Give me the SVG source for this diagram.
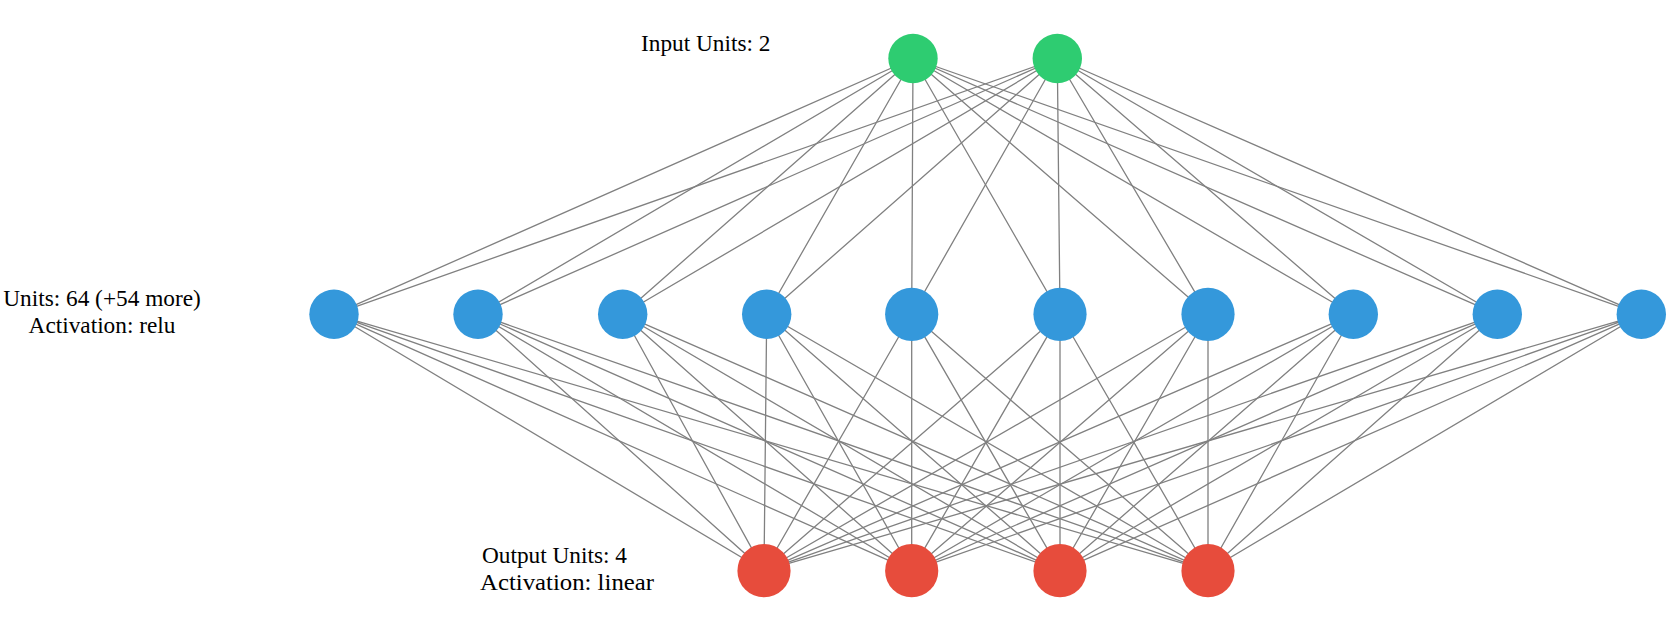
<svg xmlns="http://www.w3.org/2000/svg" width="1671" height="629" viewBox="0 0 1671 629">
<style>
.e{stroke:#808080;stroke-width:1.3;fill:none}
.in{fill:#2ecc71}
.hd{fill:#3498db}
.out{fill:#e74c3c}
.t{font-family:"Liberation Serif","Times New Roman",serif;font-size:23.3px;fill:#000}
</style>
<rect width="1671" height="629" fill="#fff"/>
<g id="connectors" class="e">
<path d="M913,58.5L334,314.3M913,58.5L478,314.3M913,58.5L622.7,314.3M913,58.5L766.7,314.3M913,58.5L911.7,314.3M913,58.5L1060,314.3M913,58.5L1208,314.3M913,58.5L1353.3,314.3M913,58.5L1497.3,314.3M913,58.5L1641.3,314.3"/>
<path d="M1057.3,58.5L334,314.3M1057.3,58.5L478,314.3M1057.3,58.5L622.7,314.3M1057.3,58.5L766.7,314.3M1057.3,58.5L911.7,314.3M1057.3,58.5L1060,314.3M1057.3,58.5L1208,314.3M1057.3,58.5L1353.3,314.3M1057.3,58.5L1497.3,314.3M1057.3,58.5L1641.3,314.3"/>
<path d="M334,314.3L764,570.7M334,314.3L911.7,570.7M334,314.3L1060,570.7M334,314.3L1208,570.7"/>
<path d="M478,314.3L764,570.7M478,314.3L911.7,570.7M478,314.3L1060,570.7M478,314.3L1208,570.7"/>
<path d="M622.7,314.3L764,570.7M622.7,314.3L911.7,570.7M622.7,314.3L1060,570.7M622.7,314.3L1208,570.7"/>
<path d="M766.7,314.3L764,570.7M766.7,314.3L911.7,570.7M766.7,314.3L1060,570.7M766.7,314.3L1208,570.7"/>
<path d="M911.7,314.3L764,570.7M911.7,314.3L911.7,570.7M911.7,314.3L1060,570.7M911.7,314.3L1208,570.7"/>
<path d="M1060,314.3L764,570.7M1060,314.3L911.7,570.7M1060,314.3L1060,570.7M1060,314.3L1208,570.7"/>
<path d="M1208,314.3L764,570.7M1208,314.3L911.7,570.7M1208,314.3L1060,570.7M1208,314.3L1208,570.7"/>
<path d="M1353.3,314.3L764,570.7M1353.3,314.3L911.7,570.7M1353.3,314.3L1060,570.7M1353.3,314.3L1208,570.7"/>
<path d="M1497.3,314.3L764,570.7M1497.3,314.3L911.7,570.7M1497.3,314.3L1060,570.7M1497.3,314.3L1208,570.7"/>
<path d="M1641.3,314.3L764,570.7M1641.3,314.3L911.7,570.7M1641.3,314.3L1060,570.7M1641.3,314.3L1208,570.7"/>
</g>
<g id="input-1"><circle class="in" cx="913" cy="58.5" r="24.7"/></g>
<g id="input-2"><circle class="in" cx="1057.3" cy="58.5" r="24.7"/></g>
<g id="hidden-1"><circle class="hd" cx="334" cy="314.3" r="24.7"/></g>
<g id="hidden-2"><circle class="hd" cx="478" cy="314.3" r="24.7"/></g>
<g id="hidden-3"><circle class="hd" cx="622.7" cy="314.3" r="24.7"/></g>
<g id="hidden-4"><circle class="hd" cx="766.7" cy="314.3" r="24.7"/></g>
<g id="hidden-5"><circle class="hd" cx="911.7" cy="314.3" r="26.6"/></g>
<g id="hidden-6"><circle class="hd" cx="1060" cy="314.3" r="26.6"/></g>
<g id="hidden-7"><circle class="hd" cx="1208" cy="314.3" r="26.6"/></g>
<g id="hidden-8"><circle class="hd" cx="1353.3" cy="314.3" r="24.7"/></g>
<g id="hidden-9"><circle class="hd" cx="1497.3" cy="314.3" r="24.7"/></g>
<g id="hidden-10"><circle class="hd" cx="1641.3" cy="314.3" r="24.7"/></g>
<g id="output-1"><circle class="out" cx="764" cy="570.7" r="26.6"/></g>
<g id="output-2"><circle class="out" cx="911.7" cy="570.7" r="26.6"/></g>
<g id="output-3"><circle class="out" cx="1060" cy="570.7" r="26.6"/></g>
<g id="output-4"><circle class="out" cx="1208" cy="570.7" r="26.6"/></g>
<g id="labels">
<text class="t" x="641" y="51">Input Units: 2</text>
<text class="t" x="102" y="306" text-anchor="middle">Units: 64 (+54 more)</text>
<text class="t" x="102" y="333.3" text-anchor="middle">Activation: relu</text>
<text class="t" x="482" y="562.7">Output Units: 4</text>
<text class="t" x="480" y="590" textLength="174" lengthAdjust="spacingAndGlyphs">Activation: linear</text>
</g>
</svg>
